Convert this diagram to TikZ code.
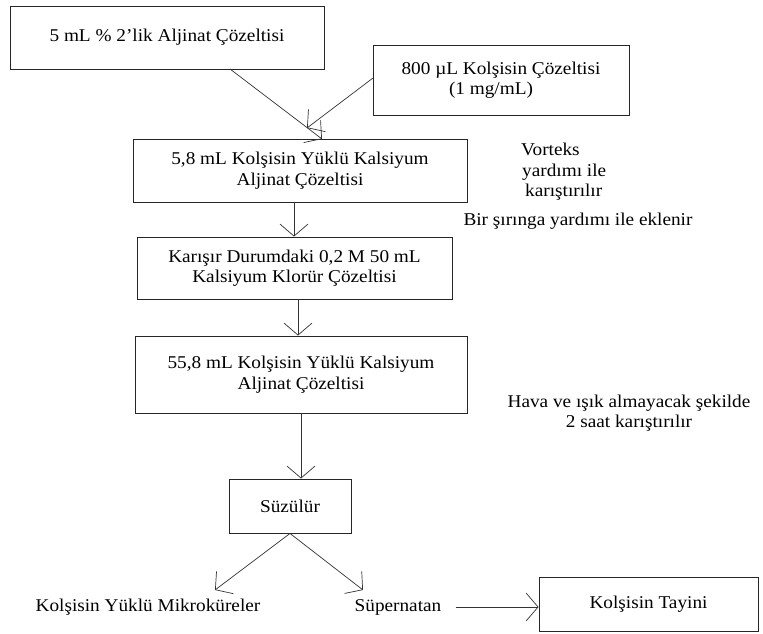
\documentclass[tikz,border=0pt]{standalone}
\usepackage{fontspec}
\setmainfont{Liberation Serif}[FakeStretch=1.07]
\usetikzlibrary{arrows.meta}
\begin{document}
\begin{tikzpicture}[x=1pt,y=-1pt,
  box/.style={draw=black!85, line width=0.9pt, inner sep=0pt, align=center,
    font=\fontsize{18}{20.5}\selectfont},
  lbl/.style={inner sep=0pt, font=\fontsize{18}{20.5}\selectfont},
  arr/.style={draw=black!80, line width=0.7pt,
    -{Straight Barb[length=12pt,width=28pt,line width=0.7pt]}}]
\useasboundingbox (0,0) rectangle (763,634);
% boxes
\node[box, minimum width=314pt, minimum height=63pt] (b1) at (167,37.5) {5 mL \% 2{\char"0027}lik Aljinat Çözeltisi};
\node[box, minimum width=256pt, minimum height=70pt] (b2) at (501,80) {800 µL Kolşisin Çözeltisi\\[-1pt](1 mg/mL)\hspace*{20pt}};
\node[box, minimum width=334pt, minimum height=63pt] (b3) at (300,170.5) {5,8 mL Kolşisin Yüklü Kalsiyum\\Aljinat Çözeltisi};
\node[box, minimum width=315pt, minimum height=62pt] (b4) at (294.5,268) {Karışır Durumdaki 0,2 M 50 mL\\Kalsiyum Klorür Çözeltisi};
\node[box, minimum width=332pt, minimum height=77pt] (b5) at (301,374.5) {55,8 mL Kolşisin Yüklü Kalsiyum\\Aljinat Çözeltisi};
\node[box, minimum width=122pt, minimum height=54pt] (b6) at (290,506) {Süzülür};
\node[box, minimum width=219pt, minimum height=54pt] (b7) at (648.5,604) {Kolşisin Tayini};
% free labels
\node[lbl, align=left, anchor=west] (vort) at (521,172) {Vorteks\\\hspace*{1pt}yardımı ile\\\hspace*{4pt}karıştırılır};
\node[lbl] (syr) at (578,221) {Bir şırınga yardımı ile eklenir};
\node[lbl, align=center] (hava) at (629,413) {Hava ve ışık almayacak şekilde\\2 saat karıştırılır};
\node[lbl] (mikro) at (148,607) {Kolşisin Yüklü Mikroküreler};
\node[lbl] (super) at (398,607) {Süpernatan};
% connector points
\coordinate (b1o) at (230,69);
\coordinate (b3i) at (322,139);
\coordinate (b2o) at (373,78);
\coordinate (b2e) at (307,128);
\coordinate (m1) at (215,590);
\coordinate (s1) at (363,590);
% connectors
\draw[arr] (b1o) -- (b3i);
\draw[arr] (b2o) -- (b2e);
\draw[arr] (b3.south -| 294,0) -- (b4.north -| 294,0);
\draw[arr] (b4.south -| 298,0) -- (b5.north -| 298,0);
\draw[arr] (b5.south -| 301,0) -- (b6.north -| 301,0);
\draw[arr] (b6.south) -- (m1);
\draw[arr] (b6.south) -- (s1);
\draw[arr, shorten <=14pt] (super.east) -- (super.east -| b7.west);
\end{tikzpicture}
\end{document}
